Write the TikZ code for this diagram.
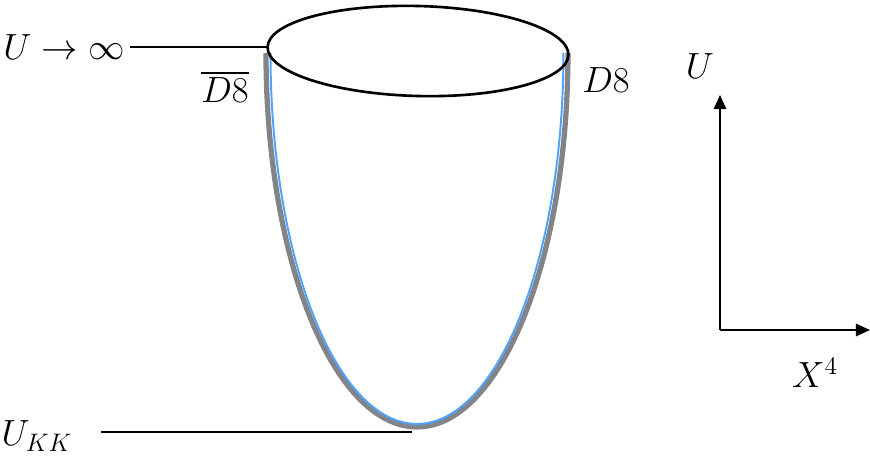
\documentclass[tikz,border=0pt]{standalone}
\usepackage{amsmath,amssymb}
\usetikzlibrary{shapes.geometric,arrows.meta}
\definecolor{branegray}{RGB}{130,132,138}
\definecolor{braneblue}{RGB}{77,163,255}
\begin{document}
\begin{tikzpicture}[x=0.02cm, y=-0.02cm,
  lbl/.style={font=\fontsize{20}{22}\selectfont, inner sep=0pt},
  hline/.style={line width=1.4pt},
  axis/.style={line width=1.2pt, -{Triangle[length=8pt,width=7pt]}},
  topcap/.style={ellipse, draw, line width=1.5pt, inner sep=0pt, outer sep=0pt,
    minimum width=6.02cm, minimum height=1.8cm, rotate=-1.5}]
  \useasboundingbox (0,0) rectangle (870,456);

  \node[lbl] (uinf) at (64,47) {$U \to \infty$};
  \node[lbl] (ukk) at (37,436) {$U_{KK}$};
  \node[lbl] (dbar) at (225,87) {$\overline{D8}$};
  \node[lbl] (d8) at (606,80) {$D8$};
  \node[lbl] (ulab) at (700,66) {$U$};
  \node[lbl] (xlab) at (815,373) {$X^4$};

  \coordinate (lt) at (266,53);
  \coordinate (lb) at (270.5,53);
  \coordinate (kk) at (412,432);
  \coordinate (orig) at (720,330);
  \coordinate (utip) at (720,95);
  \coordinate (xtip) at (870,330);

  \draw[branegray, line width=3pt] (lt) arc[start angle=180, end angle=360,
    x radius=3.02cm, y radius=7.48cm];
  \draw[braneblue, line width=1.1pt] (lb) arc[start angle=180, end angle=360,
    x radius=2.93cm, y radius=7.42cm];

  \node[topcap] (top) at (418,51) {};

  \draw[hline, shorten <=3pt] (top.west -| uinf.east) -- (top.west);
  \draw[hline, shorten <=16pt] (ukk.east |- kk) -- (kk);

  \draw[axis] (orig) -- (utip);
  \draw[axis] (orig) -- (xtip);
\end{tikzpicture}
\end{document}
